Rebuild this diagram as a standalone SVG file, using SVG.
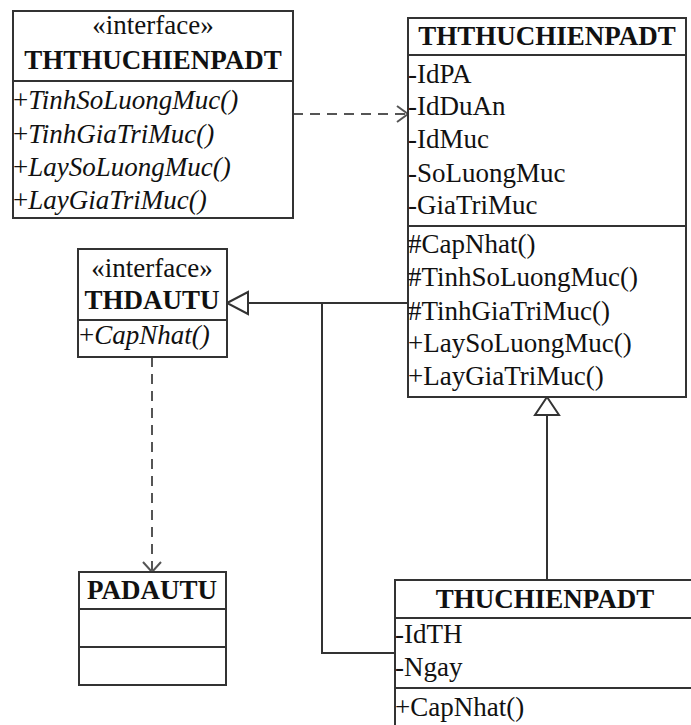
<svg xmlns="http://www.w3.org/2000/svg" width="691" height="725" viewBox="0 0 691 725">
<defs>
<style>
.box{fill:#fff;stroke:#333;stroke-width:2}
.sep{stroke:#333;stroke-width:2}
.t{font-family:"Liberation Serif","Times New Roman",serif;font-size:27px;fill:#111}
.ti{font-style:italic}
.b{font-weight:bold;font-size:27px}
.c{text-anchor:middle}
.ln{fill:none;stroke:#333;stroke-width:2}
.dash{fill:none;stroke:#555;stroke-width:2;stroke-dasharray:10,7}
.head{fill:none;stroke:#555;stroke-width:2}
.tri{fill:#fff;stroke:#333;stroke-width:2}
</style>
</defs>
<rect width="691" height="725" fill="#fff"/>
<g id="connectors">
<path class="dash" d="M293,114 H406"/>
<path class="head" d="M397,106 L408,114 L397,122"/>
<path class="dash" d="M152,357 V570"/>
<path class="head" d="M143,562 L152,572 L161,562"/>
<path class="ln" d="M408,303 H248"/>
<path class="ln" d="M395,653 H322 V303"/>
<path class="tri" d="M227,303 L248,292 L248,314 Z"/>
<path class="ln" d="M547,580 V415"/>
<path class="tri" d="M547,397 L535,415 L559,415 Z"/>
</g>
<g id="ithuchienpadt">
<rect class="box" x="13" y="11" width="280" height="207"/>
<line class="sep" x1="13" y1="81" x2="293" y2="81"/>
<text class="t c" x="153" y="34">«interface»</text>
<text class="t b c" x="153" y="69">THTHUCHIENPADT</text>
<text class="t" x="13" y="109">+<tspan class="ti">TinhSoLuongMuc()</tspan></text>
<text class="t" x="13" y="143">+<tspan class="ti">TinhGiaTriMuc()</tspan></text>
<text class="t" x="13" y="176">+<tspan class="ti">LaySoLuongMuc()</tspan></text>
<text class="t" x="13" y="209">+<tspan class="ti">LayGiaTriMuc()</tspan></text>
</g>
<g id="thuchienpadt_abstract">
<rect class="box" x="408" y="18" width="278" height="379"/>
<line class="sep" x1="408" y1="55" x2="686" y2="55"/>
<line class="sep" x1="408" y1="226" x2="686" y2="226"/>
<text class="t b c" x="547" y="45">THTHUCHIENPADT</text>
<text class="t" x="408" y="83">-IdPA</text>
<text class="t" x="408" y="115">-IdDuAn</text>
<text class="t" x="408" y="148">-IdMuc</text>
<text class="t" x="408" y="182">-SoLuongMuc</text>
<text class="t" x="408" y="214">-GiaTriMuc</text>
<text class="t" x="408" y="253">#CapNhat()</text>
<text class="t" x="408" y="286">#TinhSoLuongMuc()</text>
<text class="t" x="408" y="320">#TinhGiaTriMuc()</text>
<text class="t" x="408" y="352">+LaySoLuongMuc()</text>
<text class="t" x="408" y="385">+LayGiaTriMuc()</text>
</g>
<g id="thdautu">
<rect class="box" x="78" y="249" width="149" height="108"/>
<line class="sep" x1="78" y1="320" x2="227" y2="320"/>
<text class="t c" x="152" y="277">«interface»</text>
<text class="t b c" x="152" y="309">THDAUTU</text>
<text class="t" x="79" y="344">+<tspan class="ti">CapNhat()</tspan></text>
</g>
<g id="padautu">
<rect class="box" x="79" y="572" width="147" height="113"/>
<line class="sep" x1="79" y1="609" x2="226" y2="609"/>
<line class="sep" x1="79" y1="647" x2="226" y2="647"/>
<text class="t b c" x="152" y="599">PADAUTU</text>
</g>
<g id="thuchienpadt">
<rect class="box" x="395" y="580" width="300" height="160"/>
<line class="sep" x1="395" y1="618" x2="695" y2="618"/>
<line class="sep" x1="395" y1="688" x2="695" y2="688"/>
<text class="t b c" x="545" y="608">THUCHIENPADT</text>
<text class="t" x="395" y="643">-IdTH</text>
<text class="t" x="395" y="676">-Ngay</text>
<text class="t" x="395" y="716">+CapNhat()</text>
</g>
</svg>
